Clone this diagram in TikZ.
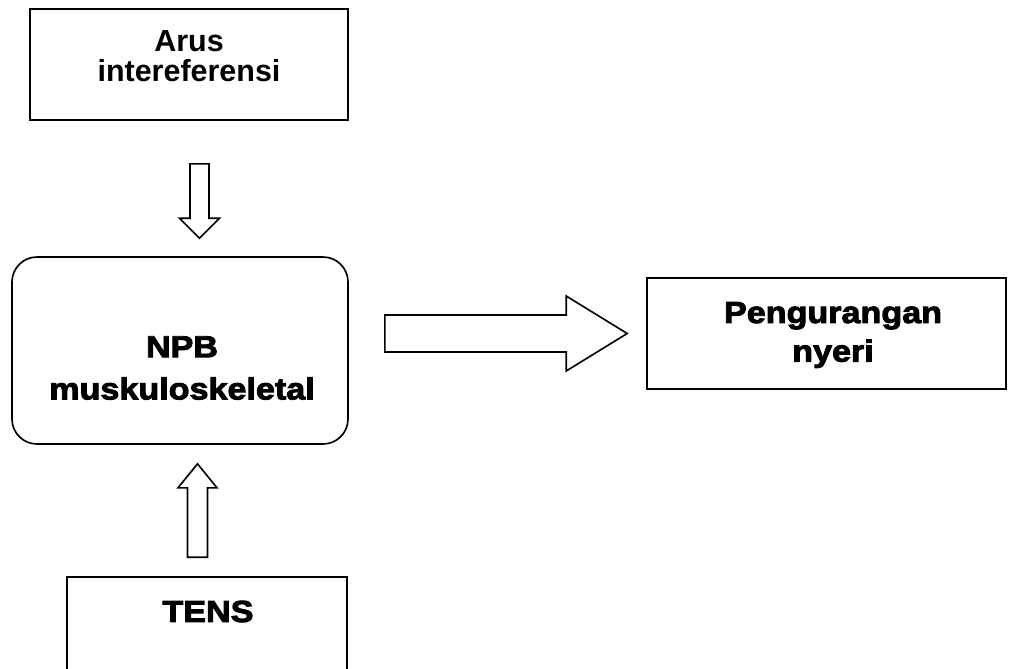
\documentclass[tikz,border=0pt]{standalone}
\usepackage{fontspec}
\setmainfont{Liberation Sans}
\newfontfamily\heavyfont{Liberation Sans}[FakeStretch=1.12,BoldFeatures={FakeBold=3}]
\usepackage{tikz}
\usetikzlibrary{positioning,calc}

\tikzset{
  box/.style={draw, line width=1.4pt, inner sep=0pt},
  lbl/.style={align=center, inner sep=0pt, font=\heavyfont\bfseries\fontsize{26}{36}\selectfont},
  blockarrow/.style={draw, line width=1.4pt, line join=miter, fill=white}
}

\begin{document}
\begin{tikzpicture}[x=0.03cm, y=-0.03cm]
        \useasboundingbox (0,0) rectangle (1015,668);
        \clip (0,0) rectangle (1015,668);

        \node (arus)[box, minimum width=9.54cm, minimum height=3.33cm] at (189,64.5) {};
        \node (npb)[box, rounded corners=0.75cm, minimum width=10.08cm, minimum height=5.61cm] at (180,350.5) {};
        \node (peng)[box, minimum width=10.77cm, minimum height=3.33cm] at (826.5,333.5) {};
        \node (tens)[box, minimum width=8.4cm, minimum height=3.69cm] at (207,638.5) {};

        \node (arustext)[lbl, font=\bfseries\fontsize{26}{26}\selectfont] at (189,56) {Arus\\intereferensi};
        \node (npbtext)[lbl] at (182,368) {NPB\\muskuloskeletal};
        \node (pengtext)[lbl, font=\heavyfont\bfseries\fontsize{26}{33}\selectfont] at (833,335) {Pengurangan\\nyeri};
        \node (tenstext)[lbl] at (208,611.5) {TENS};

%%         arus -> npb
        \coordinate (dtip) at ($(npb.north)+(19.5,-18)$);
        \coordinate (dtop) at (dtip |- {$(arus.south)+(0,43)$});
        \draw[blockarrow] ($(dtop)+(-9.5,0)$) -- ($(dtop)+(9.5,0)$) -- ($(dtip)+(9.5,-20)$) -- ($(dtip)+(20,-20)$) -- (dtip) -- ($(dtip)+(-20,-20)$) -- ($(dtip)+(-9.5,-20)$) -- cycle;

%%         tens -> npb
        \coordinate (utip) at ($(npb.south)+(17.5,19)$);
        \coordinate (ubot) at (utip |- {$(tens.north)+(0,-19)$});
        \draw[blockarrow] ($(ubot)+(-10,0)$) -- ($(utip)+(-10,24)$) -- ($(utip)+(-19.5,24)$) -- (utip) -- ($(utip)+(19.5,24)$) -- ($(utip)+(10,24)$) -- ($(ubot)+(10,0)$) -- cycle;

%%         npb -> peng
        \coordinate (rtip) at ($(peng.west)+(-19,0)$);
        \coordinate (rtail) at ({$(npb.east)+(36,0)$} |- rtip);
        \draw[blockarrow] ($(rtail)+(0,-18.5)$) -- ($(rtip)+(-61,-18.5)$) -- ($(rtip)+(-61,-37.5)$) -- (rtip) -- ($(rtip)+(-61,37.5)$) -- ($(rtip)+(-61,18.5)$) -- ($(rtail)+(0,18.5)$) -- cycle;

      \end{tikzpicture}
\end{document}
